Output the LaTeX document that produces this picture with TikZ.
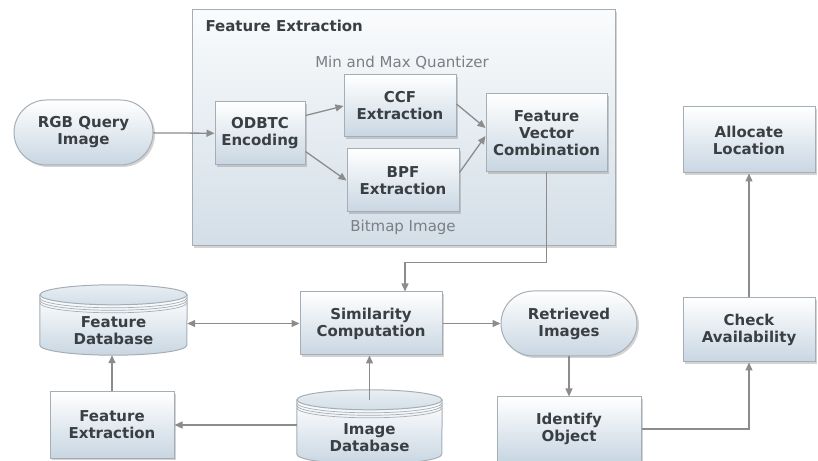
\documentclass[tikz,border=0pt]{standalone}
\usepackage{fontspec}
\setmainfont{DejaVu Sans}
\usepackage{xcolor}
\definecolor{cbirtext}{HTML}{3A3F44}
\definecolor{cbirsoft}{HTML}{7A7F84}
\definecolor{cbiredge}{HTML}{A6AEB5}
\definecolor{cbirblue}{HTML}{C8D6E2}
\definecolor{cbirpanel}{HTML}{D3DEE7}
\definecolor{cbirarrow}{HTML}{8C8C8C}
\usepackage{tikz}
\usetikzlibrary{shapes.misc,arrows.meta,positioning,shadows,backgrounds,calc}

% drum shape drawn behind a database node: node name, half width
\newcommand{\drum}[2]{%
  \begin{pgfonlayer}{background}
    \path[draw=cbiredge, line width=1pt, top color=white, bottom color=cbirblue]
      ([yshift=12pt]#1.north west) -- ([yshift=10pt]#1.south west)
      arc[start angle=180, end angle=360, x radius=#2, y radius=10pt]
      -- ([yshift=12pt]#1.north east) -- cycle;
    \path[draw=cbiredge, line width=1pt, top color=cbirblue!40, bottom color=cbirblue!80]
      ([yshift=12pt]#1.north) ellipse[x radius=#2, y radius=10pt];
    \foreach \dy in {3,5.5,8}
      \draw[cbiredge, line width=0.7pt]
        ([yshift={(12-\dy)*1pt}]#1.north west)
        arc[start angle=180, end angle=360, x radius=#2, y radius=10pt];
  \end{pgfonlayer}}

\begin{document}
\begin{tikzpicture}[x=1pt, y=1pt,
    every node/.style={align=center, text=cbirtext,
      font=\fontsize{15}{17}\selectfont\bfseries},
    shade box/.style={draw=cbiredge, line width=1pt, top color=white,
      bottom color=cbirblue,
      drop shadow={shadow xshift=2pt, shadow yshift=-2pt, opacity=.35}},
    stepbox/.style={shade box, rectangle, inner sep=2pt},
    termbox/.style={shade box, rounded rectangle, inner sep=2pt},
    dbnode/.style={rectangle, inner sep=0pt},
    panel/.style={draw=cbiredge, line width=1pt, top color=white!60!cbirpanel!30,
      bottom color=cbirpanel,
      drop shadow={shadow xshift=2pt, shadow yshift=-2pt, opacity=.35}},
    softtext/.style={text=cbirsoft, font=\fontsize{15}{17}\selectfont},
    flow/.style={draw=cbirarrow, line width=1.3pt,
      -{Triangle[length=8pt, width=7pt]}},
    twoway/.style={flow, {Triangle[length=8pt, width=7pt]}-{Triangle[length=8pt, width=7pt]}}]
  \useasboundingbox (0,0) rectangle (818,460);

  % feature extraction panel
  \node[panel, minimum width=423, minimum height=236] (panel) at (403.5,332) {};
  \node[anchor=west] (paneltitle) at (202,434) {Feature Extraction};
  \node[softtext] (quant) at (402,397) {Min and Max Quantizer};
  \node[softtext] (bitmap) at (403,233) {Bitmap Image};

  \node[termbox, minimum width=143, minimum height=65] (rgb) at (83.5,327.5)
    {RGB Query\\Image};
  \node[stepbox, minimum width=90, minimum height=63] (odbtc) at (260,326.5)
    {ODBTC\\Encoding};
  \node[stepbox, minimum width=112, minimum height=62] (ccf) at (400,354)
    {CCF\\Extraction};
  \node[stepbox, minimum width=112, minimum height=63] (bpf) at (403,279.5)
    {BPF\\Extraction};
  \node[stepbox, minimum width=121, minimum height=78] (fvc) at (546.5,327)
    {Feature\\Vector\\Combination};

  % retrieval part
  \node[stepbox, minimum width=142, minimum height=63] (sim) at (371,136.5)
    {Similarity\\Computation};
  \node[termbox, minimum width=140, minimum height=65] (ret) at (569,136.5)
    {Retrieved\\Images};
  \node[stepbox, minimum width=144, minimum height=64] (ident) at (569,31)
    {Identify\\Object};
  \node[stepbox, minimum width=132, minimum height=64] (check) at (749,130)
    {Check\\Availability};
  \node[stepbox, minimum width=132, minimum height=66] (alloc) at (749,320)
    {Allocate\\Location};
  \node[stepbox, minimum width=124, minimum height=66] (fext) at (112,35)
    {Feature\\Extraction};

  % databases
  \node[dbnode, minimum width=147, minimum height=48] (fdb) at (113.5,129)
    {Feature\\Database};
  \drum{fdb}{73.5pt}
  \node[dbnode, minimum width=145, minimum height=52] (idb) at (369.5,22)
    {Image\\Database};
  \drum{idb}{72.5pt}

  % connectors
  \draw[flow] (rgb) -- (odbtc);
  \draw[flow] ([yshift=18pt]odbtc.east) -- (ccf.west);
  \draw[flow] ([yshift=-18pt]odbtc.east) -- (bpf.west);
  \draw[flow] ([yshift=2pt]ccf.east) -- ([yshift=5pt]fvc.west);
  \draw[flow] ([yshift=8pt]bpf.east) -- ([yshift=-3pt]fvc.west);
  \draw[flow] (fvc.south) -- ++(0,-90) -| ([xshift=34pt]sim.north);
  \draw[twoway] (fdb.east |- sim.west) -- (sim.west);
  \draw[flow] (sim.east) -- (ret.west);
  \draw[flow] (ret.south) -- (ident.north);
  \draw[flow] (ident.east) -| (check.south);
  \draw[flow] (check.north) -- (alloc.south);
  \draw[flow] (idb.north |- 0,60) -- (idb.north |- sim.south);
  \draw[flow] (idb.west |- fext.east) -- (fext.east);
  \draw[flow] (fext.north) -- (fext.north |- fdb.south);
\end{tikzpicture}
\end{document}
